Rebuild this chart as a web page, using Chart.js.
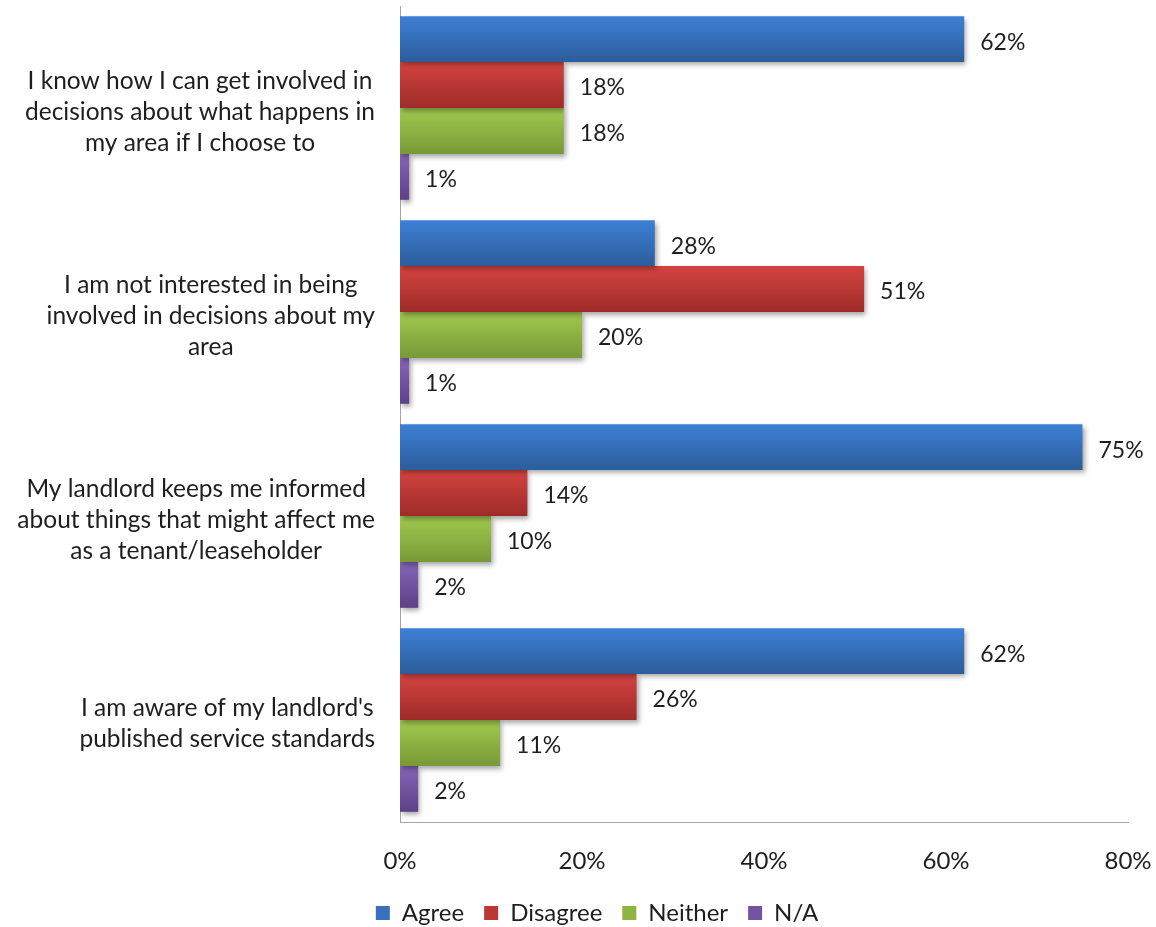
<!DOCTYPE html>
<html>
<head>
<meta charset="utf-8">
<title>Involvement and information</title>
<script src="https://cdn.jsdelivr.net/npm/chart.js@4"></script>
<style>
  html, body { margin: 0; padding: 0; background: #fff; overflow: hidden; }
  #wrap { width: 1156px; height: 927px; }
</style>
</head>
<body>
<div id="wrap"><canvas id="survey"></canvas></div>
<script>
const statements = [
  ['I know how I can get involved in', 'decisions about what happens in', 'my area if I choose to'],
  ['I am not interested in being', 'involved in decisions about my', 'area'],
  ['My landlord keeps me informed', 'about things that might affect me', 'as a tenant/leaseholder'],
  ["I am aware of my landlord's", 'published service standards']
];
const agree = [62, 28, 75, 62];
const disagree = [18, 51, 14, 26];
const neither = [18, 20, 10, 11];
const notApplicable = [1, 1, 2, 2];
const xTicks = [0, 20, 40, 60, 80];

const FONT = 'Lato, Carlito, Calibri, sans-serif';
const TEXT = '#1e1e1e';

// top / bottom colour of each bar's vertical gradient
const shades = {
  Agree: ['#3d80d6', '#2c5c9a'],
  Disagree: ['#d44340', '#9e2b29'],
  Neither: ['#a1ca4e', '#789937'],
  'N/A': ['#8666b8', '#5d4088']
};

// gradient fill + soft drop shadow for every bar
const barLook = {
  id: 'barLook',
  beforeDatasetDraw(chart, args) {
    const ctx = chart.ctx;
    const ds = chart.data.datasets[args.index];
    const [top, bottom] = shades[ds.label];
    args.meta.data.forEach(bar => {
      const h = bar.height;
      const g = ctx.createLinearGradient(0, bar.y - h / 2, 0, bar.y + h / 2);
      g.addColorStop(0, top);
      g.addColorStop(1, bottom);
      bar.options = Object.assign({}, bar.options, { backgroundColor: g });
    });
    ctx.save();
    ctx.shadowColor = 'rgba(0,0,0,0.35)';
    ctx.shadowBlur = 5;
    ctx.shadowOffsetX = 2;
    ctx.shadowOffsetY = 3;
  },
  afterDatasetDraw(chart) {
    chart.ctx.restore();
  }
};

// percentages to the right of each bar, and the wrapped statements on the left
const labels = {
  id: 'labels',
  afterLayout(chart) {
    // centre the legend under the plot rather than the whole canvas
    chart.legend.left += 33;
    chart.legend.right += 33;
  },
  afterDatasetsDraw(chart) {
    const ctx = chart.ctx;
    ctx.save();
    ctx.fillStyle = TEXT;
    ctx.textBaseline = 'middle';
    ctx.textAlign = 'left';
    ctx.font = '23px ' + FONT;
    chart.data.datasets.forEach((ds, i) => {
      chart.getDatasetMeta(i).data.forEach((bar, j) => {
        ctx.fillText(ds.data[j] + '%', bar.x + 16, bar.y + 3);
      });
    });

    const y = chart.scales.y;
    const right = chart.chartArea.left - 25;
    const lineH = 31;
    ctx.font = '24.5px ' + FONT;
    ctx.textAlign = 'center';
    statements.forEach((lines, i) => {
      const widest = Math.max(...lines.map(l => ctx.measureText(l).width));
      const cx = right - widest / 2;
      const y0 = y.getPixelForTick(i) - (lines.length - 1) * lineH / 2 + 4;
      lines.forEach((l, k) => ctx.fillText(l, cx, y0 + k * lineH));
    });
    ctx.restore();
  }
};

const chart = new Chart(document.getElementById('survey'), {
  type: 'bar',
  data: {
    labels: statements.map(s => s.join(' ')),
    datasets: [
      { label: 'Agree', data: agree, backgroundColor: '#3870be' },
      { label: 'Disagree', data: disagree, backgroundColor: '#bc3835' },
      { label: 'Neither', data: neither, backgroundColor: '#8db443' },
      { label: 'N/A', data: notApplicable, backgroundColor: '#7354a2' }
    ]
  },
  options: {
    indexAxis: 'y',
    responsive: true,
    maintainAspectRatio: false,
    animation: false,
    datasets: {
      bar: { categoryPercentage: 0.9, barPercentage: 1.0 }
    },
    layout: { padding: { top: 6, right: 28, bottom: -8, left: 0 } },
    scales: {
      x: {
        min: 0,
        max: 80,
        afterBuildTicks: scale => { scale.ticks = xTicks.map(v => ({ value: v })); },
        afterFit: scale => {
          scale.height = 59;
          scale.paddingLeft = 0;
          scale.paddingRight = 0;
        },
        grid: { display: false, drawTicks: false },
        border: { color: '#a6a6a6', width: 1 },
        ticks: {
          padding: 25,
          color: TEXT,
          font: { family: FONT, size: 24 },
          callback: v => v + '%'
        }
      },
      y: {
        afterFit: scale => { scale.width = 400; },
        grid: { display: false, drawTicks: false },
        border: { color: '#a6a6a6', width: 1 },
        ticks: { display: false }
      }
    },
    plugins: {
      legend: {
        position: 'bottom',
        labels: {
          boxWidth: 14,
          boxHeight: 14,
          padding: 20,
          color: TEXT,
          font: { family: FONT, size: 24 }
        }
      },
      tooltip: { enabled: false }
    }
  },
  plugins: [barLook, labels]
});
</script>
</body>
</html>
